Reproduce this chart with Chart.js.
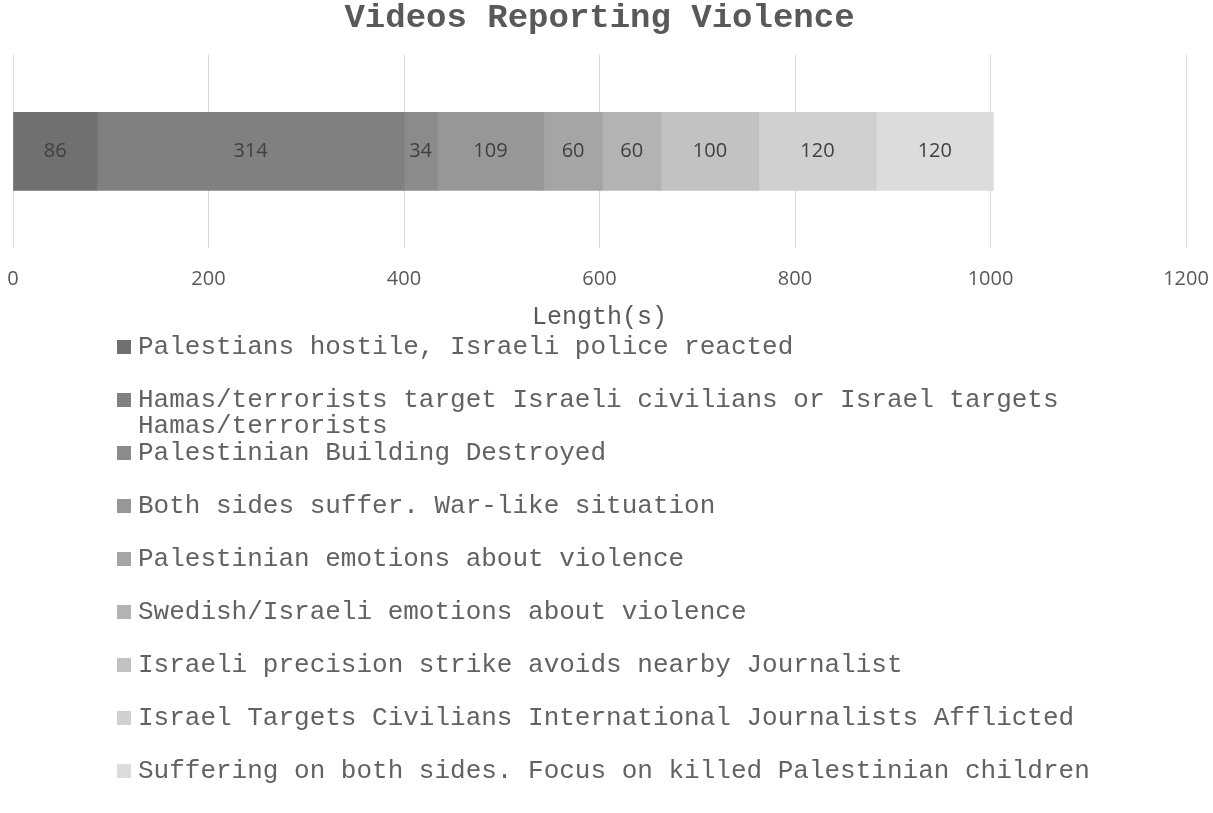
<!DOCTYPE html>
<html>
<head>
<meta charset="utf-8">
<title>Videos Reporting Violence</title>
<script src="https://cdn.jsdelivr.net/npm/chart.js@4/dist/chart.umd.min.js"></script>
<style>
  body { margin: 0; background: #fff; }
  .wrap { position: relative; width: 1213px; height: 813px; }
  #legend { position: absolute; left: 117px; top: 334px; width: 1080px;
    font-family: "Liberation Mono", "Courier New", monospace; font-size: 26px;
    line-height: 26px; color: #626262; }
  .item { display: flex; align-items: flex-start; height: 53px; }
  .box { width: 14px; height: 14px; flex: none; margin: 6px 7px 0 0; }
</style>
</head>
<body>
<div class="wrap">
  <canvas id="violenceChart" width="1213" height="336"></canvas>
  <div id="legend"></div>
</div>
<script>
const categories = [''];
const seriesNames = [
  'Palestians hostile, Israeli police reacted',
  'Hamas/terrorists target Israeli civilians or Israel targets Hamas/terrorists',
  'Palestinian Building Destroyed',
  'Both sides suffer. War-like situation',
  'Palestinian emotions about violence',
  'Swedish/Israeli emotions about violence',
  'Israeli precision strike avoids nearby Journalist',
  'Israel Targets Civilians International Journalists Afflicted',
  'Suffering on both sides. Focus on killed Palestinian children'
];
const seriesValues = [86, 314, 34, 109, 60, 60, 100, 120, 120];
const seriesColors = ['#707070', '#808080', '#8b8b8b', '#979797', '#a5a5a5',
  '#b3b3b3', '#c2c2c2', '#d0d0d0', '#dcdcdc'];
const xTicks = [0, 200, 400, 600, 800, 1000, 1200];

// draws the value in the middle of each segment
const valueLabels = {
  id: 'valueLabels',
  afterDatasetsDraw(chart) {
    const ctx = chart.ctx;
    ctx.save();
    ctx.font = '20px "Open Sans", sans-serif';
    ctx.fillStyle = '#404040';
    ctx.textAlign = 'center';
    ctx.textBaseline = 'middle';
    chart.data.datasets.forEach((ds, i) => {
      chart.getDatasetMeta(i).data.forEach((bar, j) => {
        const p = bar.getCenterPoint();
        ctx.fillText(ds.data[j], p.x, p.y);
      });
    });
    ctx.restore();
  }
};

new Chart(document.getElementById('violenceChart'), {
  type: 'bar',
  data: {
    labels: categories,
    datasets: seriesNames.map((name, i) => ({
      label: name,
      data: [seriesValues[i]],
      backgroundColor: seriesColors[i],
      borderWidth: 0,
      barThickness: 78
    }))
  },
  options: {
    indexAxis: 'y',
    responsive: false,
    animation: false,
    layout: { padding: { left: 13, right: 27, top: 0, bottom: 0 } },
    plugins: {
      legend: { display: false },
      tooltip: { enabled: false },
      title: {
        display: true,
        text: 'Videos Reporting Violence',
        color: '#595959',
        font: { family: '"Liberation Mono", monospace', size: 34, weight: 'bold' },
        padding: { top: -2, bottom: 16 }
      }
    },
    scales: {
      x: {
        stacked: true,
        min: 0,
        max: 1200,
        afterBuildTicks: (scale) => { scale.ticks = xTicks.map(v => ({ value: v })); },
        afterFit: (scale) => { scale.paddingLeft = 0; scale.paddingRight = 0; },
        grid: { color: '#d9d9d9', drawTicks: false },
        border: { display: false },
        ticks: {
          color: '#595959',
          padding: 19,
          callback: (v) => String(v),
          font: { family: '"Open Sans", sans-serif', size: 20 }
        },
        title: {
          display: true,
          text: 'Length(s)',
          color: '#595959',
          font: { family: '"Liberation Mono", monospace', size: 25 },
          padding: { top: -8, bottom: 4 }
        }
      },
      y: { stacked: true, display: false }
    }
  },
  plugins: [valueLabels]
});

const legend = document.getElementById('legend');
seriesNames.forEach((name, i) => {
  const item = document.createElement('div');
  item.className = 'item';
  item.innerHTML = '<span class="box" style="background:' + seriesColors[i] + '"></span><span>' + name + '</span>';
  legend.appendChild(item);
});
</script>
</body>
</html>
